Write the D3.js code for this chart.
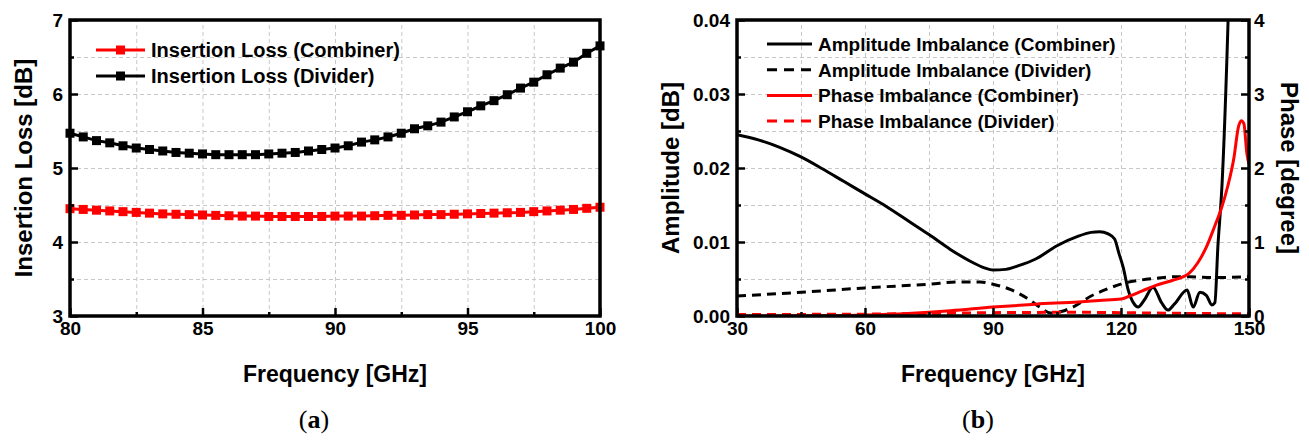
<!DOCTYPE html>
<html>
<head>
<meta charset="utf-8">
<style>
  body { margin: 0; background: #fff; }
  svg { display: block; }
  text { font-family: "Liberation Sans", Arial, sans-serif; font-weight: bold; fill: #000; }
  .grid line { stroke: #c8c8c8; stroke-width: 1; stroke-dasharray: 4,3; }
  .grid .domain { display: none; }
  .cap { font-family: "Liberation Serif", "DejaVu Serif", serif; font-weight: normal; font-size: 26px; }
</style>
</head>
<body>
<svg width="1309" height="442"></svg>
<script src="https://d3js.org/d3.v7.min.js"></script>
<script>
// ---- panel (a): insertion loss ----
var freqA = [80, 80.5, 81, 81.5, 82, 82.5, 83, 83.5, 84, 84.5, 85, 85.5, 86, 86.5, 87, 87.5, 88, 88.5, 89, 89.5,
             90, 90.5, 91, 91.5, 92, 92.5, 93, 93.5, 94, 94.5, 95, 95.5, 96, 96.5, 97, 97.5, 98, 98.5, 99, 99.5, 100];
var ilCombiner = [4.45, 4.44, 4.43, 4.42, 4.41, 4.40, 4.39, 4.38, 4.375, 4.37, 4.365, 4.36, 4.355, 4.35, 4.35,
                  4.345, 4.345, 4.345, 4.345, 4.345, 4.35, 4.35, 4.35, 4.355, 4.36, 4.36, 4.365, 4.37, 4.37, 4.375,
                  4.38, 4.385, 4.39, 4.395, 4.40, 4.41, 4.42, 4.43, 4.44, 4.455, 4.47];
var ilDivider = [5.47, 5.42, 5.37, 5.34, 5.30, 5.27, 5.25, 5.23, 5.21, 5.20, 5.19, 5.18, 5.18, 5.18, 5.18,
                 5.19, 5.20, 5.21, 5.23, 5.25, 5.27, 5.30, 5.35, 5.38, 5.42, 5.47, 5.53, 5.57, 5.62, 5.69,
                 5.76, 5.84, 5.91, 5.99, 6.08, 6.16, 6.26, 6.35, 6.43, 6.55, 6.65];
var xTicksA = [80, 85, 90, 95, 100], xMinorA = [82.5, 87.5, 92.5, 97.5];
var yTicksA = [3, 4, 5, 6, 7], yMinorA = [3.5, 4.5, 5.5, 6.5];
var legendA = ["Insertion Loss (Combiner)", "Insertion Loss (Divider)"];

// ---- panel (b): imbalance ----
var ampCombF = [30, 35, 40, 45, 50, 55, 60, 65, 70, 75, 80, 85, 88, 90, 93, 96, 100, 105, 110, 113, 115, 117, 118.5,
                119.5, 120.5, 121.7, 123, 124, 125.5, 127.5, 129.5, 131, 132.5, 135.5, 136.9, 138.5, 140, 141.3, 142,
                142.7, 143.7, 145.1, 145.4];
var ampComb = [0.0245, 0.0238, 0.0228, 0.0215, 0.0199, 0.0182, 0.0165, 0.0148, 0.0129, 0.0110, 0.0090, 0.0073,
               0.0065, 0.0062, 0.0063, 0.0068, 0.0077, 0.0095, 0.0108, 0.0113, 0.0114, 0.0111, 0.0104, 0.0085,
               0.0066, 0.0035, 0.0017, 0.0012, 0.0022, 0.0039, 0.0018, 0.0008, 0.0016, 0.0035, 0.0012, 0.0032,
               0.0028, 0.0015, 0.0018, 0.0093, 0.0180, 0.0400, 0.0460];
var ampDivF = [30, 45, 60, 75, 82, 87, 90, 94, 98, 101, 103.5, 106, 108.7, 113, 117, 120.5, 124, 128.4, 132, 136.2, 142, 150];
var ampDiv = [0.0027, 0.0032, 0.0038, 0.0043, 0.0046, 0.0046, 0.0043, 0.0036, 0.0024, 0.0012, 0.0004, 0.0006,
              0.0012, 0.0027, 0.0037, 0.0044, 0.0048, 0.0051, 0.0053, 0.0053, 0.0052, 0.0053];
var phaseCombF = [30, 45, 60, 70, 80, 90, 100, 110, 115, 120, 122, 125, 128.5, 132, 136, 138, 140, 142, 143.5, 145,
                  146.5, 147.5, 148.2, 148.8, 149.5, 150];
var phaseComb = [0.0, 0.003, 0.015, 0.035, 0.07, 0.12, 0.16, 0.19, 0.21, 0.23, 0.27, 0.34, 0.42, 0.48, 0.58, 0.72,
                 0.93, 1.22, 1.45, 1.75, 2.15, 2.55, 2.64, 2.6, 2.2, 2.05];
var phaseDivF = [30, 60, 75, 90, 110, 120, 135, 150];
var phaseDiv = [0.02, 0.025, 0.035, 0.045, 0.05, 0.045, 0.035, 0.03];
var xTicksB = [30, 60, 90, 120, 150], xMinorB = [45, 75, 105, 135];
var yTicksB = [0, 0.01, 0.02, 0.03, 0.04], yMinorB = [0.005, 0.015, 0.025, 0.035];
var y2TicksB = [0, 1, 2, 3, 4], y2MinorB = [0.5, 1.5, 2.5, 3.5];
var legendB = ["Amplitude Imbalance (Combiner)", "Amplitude Imbalance (Divider)",
               "Phase Imbalance (Combiner)", "Phase Imbalance (Divider)"];

var svg = d3.select("svg");
var top0 = 20, bot0 = 316;

function styleAxis(g, size) {
  g.select(".domain").remove();
  g.selectAll("line").attr("stroke", "#000").attr("stroke-width", 2.5);
  g.attr("font-family", null).attr("font-size", size + "px");
}

function drawGrid(x, y, xs, ys) {
  var gg = svg.append("g");
  gg.append("g").attr("class", "grid").attr("transform", "translate(0," + bot0 + ")")
    .call(d3.axisBottom(x).tickValues(xs).tickSize(-(bot0 - top0)).tickFormat(""));
  gg.append("g").attr("class", "grid").attr("transform", "translate(" + x.range()[0] + ",0)")
    .call(d3.axisLeft(y).tickValues(ys).tickSize(-(x.range()[1] - x.range()[0])).tickFormat(""));
}

function drawFrame(x, y, xMaj, xMin, yMaj, yMin, yFmt) {
  var x0 = x.range()[0], x1 = x.range()[1];
  svg.append("g").attr("transform", "translate(0," + bot0 + ")")
    .call(d3.axisBottom(x).tickValues(xMaj).tickSizeInner(-8).tickSizeOuter(0).tickPadding(6).tickFormat(d3.format("d")))
    .call(styleAxis, 19);
  svg.append("g").attr("transform", "translate(0," + bot0 + ")")
    .call(d3.axisBottom(x).tickValues(xMin).tickSizeInner(-4).tickSizeOuter(0).tickFormat(""))
    .call(styleAxis, 19);
  svg.append("g").attr("transform", "translate(" + x0 + ",0)")
    .call(d3.axisLeft(y).tickValues(yMaj).tickSizeInner(-8).tickSizeOuter(0).tickPadding(7).tickFormat(yFmt))
    .call(styleAxis, 19);
  svg.append("g").attr("transform", "translate(" + x0 + ",0)")
    .call(d3.axisLeft(y).tickValues(yMin).tickSizeInner(-4).tickSizeOuter(0).tickFormat(""))
    .call(styleAxis, 19);
  svg.append("rect").attr("x", x0).attr("y", top0).attr("width", x1 - x0).attr("height", bot0 - top0)
    .attr("fill", "none").attr("stroke", "#000").attr("stroke-width", 3.5);
}

// ================= (a) =================
var xa = d3.scaleLinear().domain([80, 100]).range([70, 600]);
var ya = d3.scaleLinear().domain([3, 7]).range([bot0, top0]);
drawGrid(xa, ya, xMinorA.concat([85, 90, 95]), yMinorA.concat([4, 5, 6]));

var seriesA = [
  {name: legendA[0], vals: ilCombiner, color: "#ff0000"},
  {name: legendA[1], vals: ilDivider, color: "#000000"}
];
var lineA = d3.line().x(function (d) { return xa(d[0]); }).y(function (d) { return ya(d[1]); });
seriesA.forEach(function (s) {
  var pts = freqA.map(function (f, i) { return [f, s.vals[i]]; });
  svg.append("path").datum(pts).attr("fill", "none").attr("stroke", s.color).attr("stroke-width", 3).attr("d", lineA);
  svg.append("g").selectAll("rect").data(pts).join("rect")
    .attr("x", function (d) { return xa(d[0]) - 4.5; })
    .attr("y", function (d) { return ya(d[1]) - 4.5; })
    .attr("width", 9).attr("height", 9).attr("fill", s.color);
});
drawFrame(xa, ya, xTicksA, xMinorA, yTicksA, yMinorA, d3.format("d"));

// legend (a)
seriesA.forEach(function (s, i) {
  var ly = 50 + i * 26;
  svg.append("line").attr("x1", 96).attr("x2", 145).attr("y1", ly).attr("y2", ly)
    .attr("stroke", s.color).attr("stroke-width", 3);
  svg.append("rect").attr("x", 116).attr("y", ly - 4.5).attr("width", 9).attr("height", 9).attr("fill", s.color);
  svg.append("text").attr("x", 151).attr("y", ly).attr("dy", "0.36em").attr("font-size", "20px").text(s.name);
});

svg.append("text").attr("x", 335).attr("y", 382).attr("text-anchor", "middle").attr("font-size", "23px")
  .text("Frequency [GHz]");
svg.append("text").attr("transform", "translate(23,168) rotate(-90)").attr("dy", "0.36em")
  .attr("text-anchor", "middle").attr("font-size", "24px").text("Insertion Loss [dB]");

// ================= (b) =================
var xb = d3.scaleLinear().domain([30, 150]).range([737, 1249]);
var yb = d3.scaleLinear().domain([0, 0.04]).range([bot0, top0]);
var yb2 = d3.scaleLinear().domain([0, 4]).range([bot0, top0]);
drawGrid(xb, yb, xMinorB.concat([60, 90, 120]), yMinorB.concat([0.01, 0.02, 0.03]));

svg.append("clipPath").attr("id", "clipB").append("rect")
  .attr("x", 737).attr("y", top0).attr("width", 512).attr("height", bot0 - top0);

var seriesB = [
  {name: legendB[0], f: ampCombF, v: ampComb, y: yb, color: "#000", dash: null},
  {name: legendB[1], f: ampDivF, v: ampDiv, y: yb, color: "#000", dash: "9,6"},
  {name: legendB[2], f: phaseCombF, v: phaseComb, y: yb2, color: "#ff0000", dash: null},
  {name: legendB[3], f: phaseDivF, v: phaseDiv, y: yb2, color: "#ff0000", dash: "9,6"}
];
var plotB = svg.append("g").attr("clip-path", "url(#clipB)");
[1, 3, 0, 2].forEach(function (k) {
  var s = seriesB[k];
  var pts = s.f.map(function (f, i) { return [f, s.v[i]]; });
  var ln = d3.line().curve(d3.curveMonotoneX)
    .x(function (d) { return xb(d[0]); }).y(function (d) { return s.y(d[1]); });
  plotB.append("path").datum(pts).attr("fill", "none").attr("stroke", s.color).attr("stroke-width", 3)
    .attr("stroke-dasharray", s.dash).attr("d", ln);
});

drawFrame(xb, yb, xTicksB, xMinorB, yTicksB, yMinorB, d3.format(".2f"));
svg.append("g").attr("transform", "translate(1249,0)")
  .call(d3.axisRight(yb2).tickValues(y2TicksB).tickSizeInner(-8).tickSizeOuter(0).tickPadding(5).tickFormat(d3.format("d")))
  .call(styleAxis, 19);
svg.append("g").attr("transform", "translate(1249,0)")
  .call(d3.axisRight(yb2).tickValues(y2MinorB).tickSizeInner(-4).tickSizeOuter(0).tickFormat(""))
  .call(styleAxis, 19);

// legend (b)
seriesB.forEach(function (s, i) {
  var ly = 44 + i * 25.7;
  svg.append("line").attr("x1", 767).attr("x2", 812).attr("y1", ly).attr("y2", ly)
    .attr("stroke", s.color).attr("stroke-width", 3).attr("stroke-dasharray", s.dash ? "10,7" : null);
  svg.append("text").attr("x", 818).attr("y", ly).attr("dy", "0.36em").attr("font-size", "19px").text(s.name);
});

svg.append("text").attr("x", 993).attr("y", 382).attr("text-anchor", "middle").attr("font-size", "23px")
  .text("Frequency [GHz]");
svg.append("text").attr("transform", "translate(670,168) rotate(-90)").attr("dy", "0.36em")
  .attr("text-anchor", "middle").attr("font-size", "24px").text("Amplitude [dB]");
svg.append("text").attr("transform", "translate(1290,168) rotate(90)").attr("dy", "0.36em")
  .attr("text-anchor", "middle").attr("font-size", "24px").text("Phase [degree]");

// captions
var capA = svg.append("text").attr("class", "cap").attr("x", 314).attr("y", 428).attr("text-anchor", "middle");
capA.append("tspan").text("(");
capA.append("tspan").attr("font-weight", "bold").text("a");
capA.append("tspan").text(")");
var capB = svg.append("text").attr("class", "cap").attr("x", 978).attr("y", 428).attr("text-anchor", "middle");
capB.append("tspan").text("(");
capB.append("tspan").attr("font-weight", "bold").text("b");
capB.append("tspan").text(")");
</script>
</body>
</html>
